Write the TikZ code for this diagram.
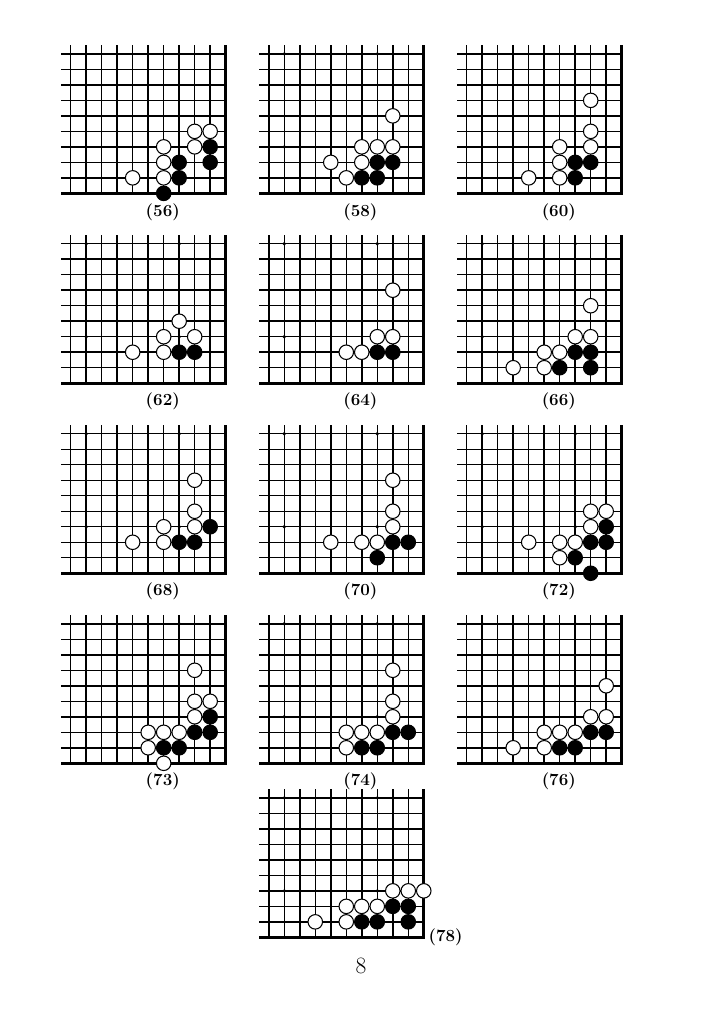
\documentclass[tikz,border=0pt]{standalone}
\usetikzlibrary{positioning}
\definecolor{inkBlack}{HTML}{000000}
\definecolor{paperWhite}{HTML}{FFFFFF}

\begin{document}
\begin{tikzpicture}[x=4.65mm, y=4.65mm,
    whiteStone/.style={circle, draw=inkBlack, fill=paperWhite, line width=0.9pt, minimum size=4.35mm, inner sep=0pt},
    blackStone/.style={circle, draw=inkBlack, fill=inkBlack, line width=0.9pt, minimum size=4.35mm, inner sep=0pt},
    diagLabel/.style={text=inkBlack, font=\fontsize{14.5}{16}\selectfont\bfseries}]
  \useasboundingbox[fill=paperWhite] (0,0) rectangle (46.645,66.065);
  \foreach \bx/\by/\num/\whites/\blacks in {
      14.56/53.59/56/{3/5,2/5,5/4,3/4,5/3,7/2,5/2}/{2/4,4/3,2/3,4/2,5/1},
      27.34/53.59/58/{3/6,5/4,4/4,3/4,7/3,5/3,6/2}/{4/3,3/3,5/2,4/2},
      40.11/53.59/60/{3/7,3/5,5/4,3/4,5/3,7/2,5/2}/{4/3,3/3,4/2},
      14.56/41.34/62/{4/5,5/4,3/4,7/3,5/3}/{4/3,3/3},
      27.34/41.34/64/{3/7,4/4,3/4,6/3,5/3}/{4/3,3/3},
      40.11/41.34/66/{3/6,4/4,3/4,6/3,5/3,8/2,6/2}/{4/3,3/3,5/2,3/2},
      14.56/29.08/68/{3/7,3/5,5/4,3/4,7/3,5/3}/{2/4,4/3,3/3},
      27.34/29.08/70/{3/7,3/5,3/4,7/3,5/3,4/3}/{3/3,2/3,4/2},
      40.11/29.08/72/{3/5,2/5,3/4,7/3,5/3,4/3,5/2}/{2/4,3/3,2/3,4/2,3/1},
      14.56/16.82/73/{3/7,3/5,2/5,3/4,6/3,5/3,4/3,6/2,5/1}/{2/4,3/3,2/3,5/2,4/2},
      27.34/16.82/74/{3/7,3/5,3/4,6/3,5/3,4/3,6/2}/{3/3,2/3,5/2,4/2},
      40.11/16.82/76/{2/6,3/4,2/4,6/3,5/3,4/3,8/2,6/2}/{3/3,2/3,5/2,4/2},
      27.34/5.59/78/{3/4,2/4,1/4,6/3,5/3,4/3,8/2,6/2}/{3/3,2/3,5/2,4/2,2/2}}{
    \begin{scope}[shift={(\bx,\by)}]
      \foreach \c in {2,...,11}
        \draw[inkBlack, line width=1.25pt] ({1-\c},0) -- ({1-\c},9.55);
      \foreach \r in {2,...,10}
        \draw[inkBlack, line width=1.25pt] (-10.6,{\r-1}) -- (0,{\r-1});
      \draw[inkBlack, line width=2.9pt] (-10.6,0) -- (0,0) -- (0,9.55);
      \foreach \c/\r in {4/4,10/4,4/10,10/10}
        \fill[inkBlack] ({1-\c},{\r-1}) circle (0.12);
      \foreach \c/\r in \whites
        \node[whiteStone] (w\num-\c-\r) at ({1-\c},{\r-1}) {};
      \foreach \c/\r in \blacks
        \node[blackStone] (b\num-\c-\r) at ({1-\c},{\r-1}) {};
    \end{scope}
  }
  \foreach \lx/\ly/\num in {10.5/52.4/56, 23.25/52.4/58, 36.05/52.4/60,
      10.5/40.15/62, 23.25/40.15/64, 36.05/40.15/66,
      10.5/27.9/68, 23.25/27.9/70, 36.05/27.9/72,
      10.5/15.65/73, 23.25/15.65/74, 36.05/15.65/76, 28.75/5.58/78}
    \node[diagLabel] (lab\num) at (\lx,\ly) {(\num)};
  \node[text=inkBlack, font=\fontsize{20}{22}\selectfont] (pageNum) at (23.29,3.74) {8};
\end{tikzpicture}
\end{document}
